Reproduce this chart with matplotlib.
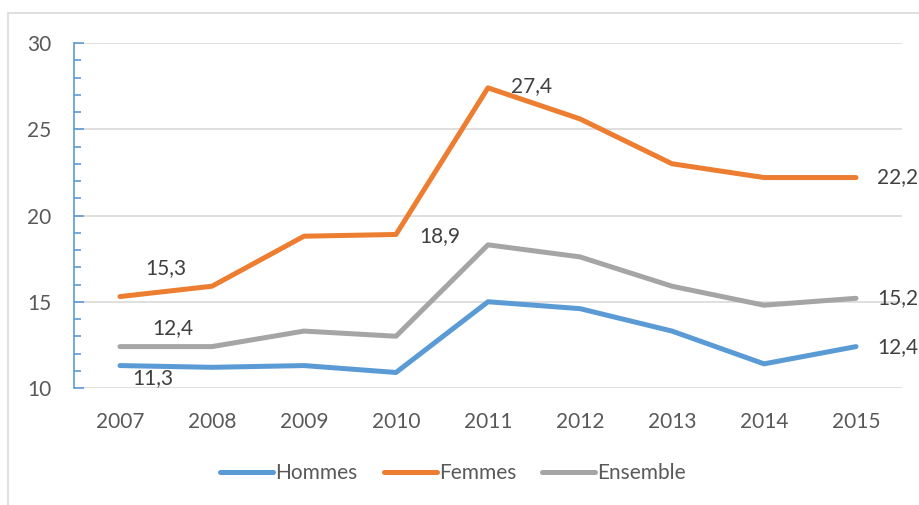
import matplotlib
matplotlib.use('Agg')
import matplotlib.pyplot as plt
from matplotlib.patches import Rectangle
from matplotlib.ticker import MultipleLocator

plt.rcParams['font.family'] = ['Lato', 'DejaVu Sans']

years = ['2007', '2008', '2009', '2010', '2011', '2012', '2013', '2014', '2015']
hommes = [11.3, 11.2, 11.3, 10.9, 15.0, 14.6, 13.3, 11.4, 12.4]
femmes = [15.3, 15.9, 18.8, 18.9, 27.4, 25.6, 23.0, 22.2, 22.2]
ensemble = [12.4, 12.4, 13.3, 13.0, 18.3, 17.6, 15.9, 14.8, 15.2]

COL_H = '#5B9BD5'
COL_F = '#ED7D31'
COL_E = '#A5A5A5'
TXT = '#404040'
FS = 15

fig = plt.figure(figsize=(9.19, 5.05), dpi=100)
ax = fig.add_axes([74 / 919, 1 - 388 / 505, (902 - 74) / 919, (388 - 43) / 505])

# chart area border
fig.patches.append(Rectangle((8 / 919, -0.1), 1.1, 1 - 13 / 505 + 0.1,
                             transform=fig.transFigure, fill=False,
                             edgecolor='#D9D9D9', linewidth=1.2))

x = list(range(len(years)))
lw = 3.6
ax.plot(x, hommes, color=COL_H, lw=lw, solid_capstyle='round', label='Hommes')
ax.plot(x, femmes, color=COL_F, lw=lw, solid_capstyle='round', label='Femmes')
ax.plot(x, ensemble, color=COL_E, lw=lw, solid_capstyle='round', label='Ensemble')

ax.set_xlim(-0.5, len(years) - 0.5)
ax.set_ylim(10, 30)
ax.set_xticks(x)
ax.set_xticklabels(years)
ax.yaxis.set_major_locator(MultipleLocator(5))
ax.yaxis.set_minor_locator(MultipleLocator(1))
ax.grid(axis='y', color='#D9D9D9', linewidth=1.2)
ax.set_axisbelow(True)

for s in ['top', 'right', 'bottom']:
    ax.spines[s].set_visible(False)
ax.spines['left'].set_color(COL_H)
ax.spines['left'].set_linewidth(1.2)

ax.tick_params(axis='x', length=0, pad=17, labelsize=FS, labelcolor='#595959')
ax.tick_params(axis='y', which='major', direction='in', length=7, width=1.2,
               color=COL_H, pad=16.5, labelsize=FS, labelcolor='#595959')
ax.tick_params(axis='y', which='minor', direction='in', length=5, width=1.2,
               color=COL_H)

# data labels (index, value, offset in pixels, alignment)
labels = [
    (0, femmes[0], (46, 28), 'center'),
    (0, ensemble[0], (53, 19), 'center'),
    (0, hommes[0], (33, -13), 'center'),
    (3, femmes[3], (44, -2), 'center'),
    (4, femmes[4], (44, 2), 'center'),
    (8, femmes[8], (21, 0), 'left'),
    (8, ensemble[8], (21, 0), 'left'),
    (8, hommes[8], (21, 0), 'left'),
]
for i, v, off, ha in labels:
    ax.annotate(f'{v:.1f}'.replace('.', ','), (i, v), xytext=off,
                textcoords='offset pixels', ha=ha, va='center',
                fontsize=FS, color=TXT, annotation_clip=False)

fig.legend(loc='center', bbox_to_anchor=(453 / 919, 1 - 473 / 505), ncol=3,
           frameon=False, fontsize=FS, handlelength=2.55, handletextpad=0.1,
           columnspacing=1.25, labelcolor='#595959')

fig.savefig('out.png', dpi=100)
